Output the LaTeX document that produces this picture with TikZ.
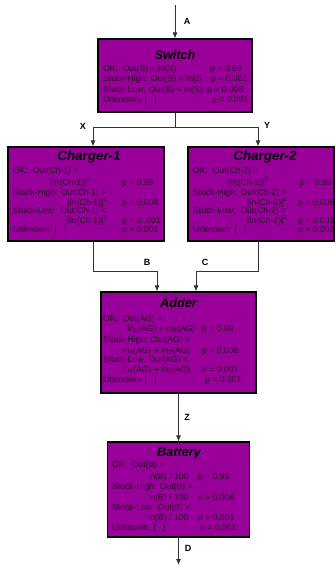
\documentclass[tikz,border=0pt]{standalone}
\usepackage{fontspec}
\setmainfont{Liberation Sans}
\usepackage{tikz}
\usetikzlibrary{arrows.meta,positioning,calc}
\definecolor{BoxPurple}{HTML}{990099}
\definecolor{RowInk}{HTML}{2B002B}
\definecolor{WireGrey}{HTML}{333333}
\newcommand{\sqIn}[1]{[In(#1)]\textsuperscript{2}}
\newcommand{\sumIn}{In\textsubscript{1}(AG) + In\textsubscript{2}(AG)}
\tikzset{
  unitbox/.style={draw=black,line width=1.2pt,fill=BoxPurple,inner sep=0pt},
  unittitle/.style={font=\fontsize{12.7}{14}\selectfont\bfseries\itshape,inner sep=0pt},
  rowtxt/.style={anchor=west,inner sep=0pt,text=RowInk,font=\fontsize{8.6}{10}\selectfont},
  sig/.style={font=\fontsize{9}{10}\selectfont\bfseries,inner sep=0pt},
  wire/.style={draw=WireGrey,line width=0.8pt},
  feed/.style={wire,-{Latex[length=6pt,width=5pt]}}
}

\begin{document}
\begin{tikzpicture}[x=1pt,y=-1pt]
  \useasboundingbox (0,0) rectangle (335,570);
  % Bloecke
  \node[unitbox,minimum width=154pt,minimum height=73pt] (sw) at (175,75.5) {};
  \node[unitbox,minimum width=156pt,minimum height=94pt] (ch1) at (86,194) {};
  \node[unitbox,minimum width=146pt,minimum height=94pt] (ch2) at (261,194) {};
  \node[unitbox,minimum width=155pt,minimum height=101pt] (add) at (178.5,342.5) {};
  \node[unitbox,minimum width=142pt,minimum height=95pt] (bat) at (178.5,489.5) {};
  \node[unittitle] (swt) at (175,55) {Switch};
  \node[unittitle,font=\fontsize{13.4}{15}\selectfont\bfseries\itshape] (ch1t) at (89,157) {Charger-1};
  \node[unittitle,font=\fontsize{13.4}{15}\selectfont\bfseries\itshape] (ch2t) at (265,157) {Charger-2};
  \node[unittitle] (addt) at (178.5,303) {Adder};
  \node[unittitle] (batt) at (179,453) {Battery};
  % Zeilen
  \foreach \x/\y/\lbl [count=\i] in {103/69/{OK:\ \ Out(S) = In(S)},210/69/{p = 0.99},
    103/79/{Stuck-High: Out(S) > In(S},211/79/{p = 0.001},
    103/90/{Stuck-Low: Out(S) < In(S)},207/90/{p = 0.008},
    103/100/{Unknown: [\ \ \ ]},212/100/{p = 0.001}}{
    \node[rowtxt] (swr\i) at (\x,\y) {\lbl};
  }
  \foreach \x/\y/\lbl [count=\i] in {13/171/{OK:\ \ Out(Ch-1) =},50/182/{\sqIn{Ch-1}},122/183/{p = 0.99},
    13/193/{Stuck-High: Out(Ch-1) >},67/202/{\sqIn{Ch-1}},122/203/{p = 0.008},
    13/211/{Stuck-Low:\ \ Out(Ch-1) <},67/220/{\sqIn{Ch-1}},122/221/{p = 0..001},
    13/230/{Unknown: [\ \ \ ]},122/230/{p = 0.001}}{
    \node[rowtxt] (cha\i) at (\x,\y) {\lbl};
  }
  \foreach \x/\y/\lbl [count=\i] in {193/171/{OK:\ \ Out(Ch-2) =},228/182/{\sqIn{Ch-2}},300/183/{p = 0.99},
    193/193/{Stuck-High: Out(Ch-2) >},247/202/{\sqIn{Ch-2}},298/203/{p = 0.008},
    193/211/{Stuck-Low:\ \ Out(Ch-2) <},247/220/{\sqIn{Ch-2}},298/221/{p = 0.001},
    193/230/{Unknown: [\ \ \ ]},298/230/{p = 0.001}}{
    \node[rowtxt] (chb\i) at (\x,\y) {\lbl};
  }
  \foreach \x/\y/\lbl [count=\i] in {103/319/{OK:\ \ Out(AG) =},127/329/{\sumIn},202/329/{p = 0.99},
    103/340/{Stuck-High: Out(AG) >},122/351/{\sumIn},202/351/{p = 0.008},
    103/360/{Stuck-Low: Out(AG) <},122/370/{\sumIn},202/370/{p = 0.001},
    103/380/{Unknown: [\ \ \ ]},205/380/{p = 0.001}}{
    \node[rowtxt] (adr\i) at (\x,\y) {\lbl};
  }
  \foreach \x/\y/\lbl [count=\i] in {112/465/{OK:\ \ Out(B) =},148/477/{In(B) / 100},198/477/{p = 0.99},
    112/487/{Stuck-High: Out(B) >},148/498/{In(B) / 100},198/498/{p = 0.008},
    112/508/{Stuck-Low: Out(B) <},148/518/{In(B) / 100},198/518/{p = 0.001},
    112/528/{Unknown: [\ \ \ ]},200/528/{p = 0.001}}{
    \node[rowtxt] (btr\i) at (\x,\y) {\lbl};
  }
  % Verbindungen
  \coordinate (ain) at (175,5);
  \coordinate (split) at (175,127);
  \coordinate (dout) at (178.5,565);
  \draw[feed] (ain) -- (sw.north);
  \draw[wire] (sw.south) -- (split);
  \draw[feed] (split) -| ($(ch1.north)+(7,0)$);
  \draw[feed] (split) -| ($(ch2.north)+(-3,0)$);
  \draw[feed] ($(ch1.south)+(7,0)$) -- ++(0,30) -| ($(add.north)+(-21.5,0)$);
  \draw[feed] ($(ch2.south)+(-3,0)$) -- ++(0,30) -| ($(add.north)+(17.5,0)$);
  \draw[feed] (add.south) -- (bat.north);
  \draw[feed] (bat.south) -- (dout);
  \node[sig] (la) at (187,21) {A};
  \node[sig] (lx) at (83,126) {X};
  \node[sig] (ly) at (267,125) {Y};
  \node[sig] (lb) at (147,262) {B};
  \node[sig] (lc) at (205,262) {C};
  \node[sig] (lz) at (187,417) {Z};
  \node[sig] (ld) at (188,548) {D};
\end{tikzpicture}
\end{document}
